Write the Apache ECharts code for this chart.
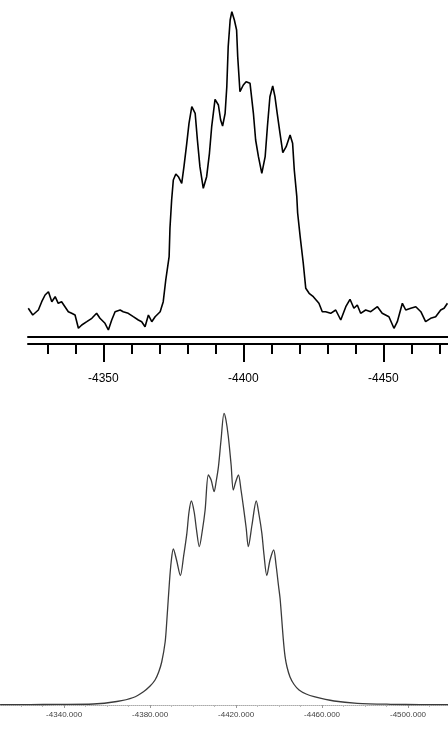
<!DOCTYPE html>
<html><head><meta charset="utf-8">
<script src="https://cdn.jsdelivr.net/npm/echarts@6/dist/echarts.min.js"></script>
<style>html,body{margin:0;padding:0;background:#fff}#c{width:448px;height:730px}</style>
</head><body><div id="c"></div>
<script>
// Top panel: experimental spectrum (field, intensity)
const topField = [-4323.2,-4324.8,-4326.8,-4328.0,-4329.2,-4330.4,-4331.6,-4332.8,-4333.9,-4335.1,-4336.3,-4337.5,-4338.7,-4339.9,-4341.1,-4342.3,-4344.1,-4345.9,-4347.6,-4348.8,-4350.6,-4351.8,-4353.0,-4354.2,-4356.0,-4357.1,-4358.9,-4360.7,-4362.5,-4363.7,-4364.9,-4366.1,-4367.3,-4368.5,-4370.3,-4371.4,-4372.3,-4373.5,-4373.8,-4374.4,-4375.0,-4375.9,-4376.8,-4378.0,-4378.8,-4379.8,-4380.6,-4381.6,-4382.8,-4383.6,-4384.5,-4385.7,-4386.9,-4387.9,-4388.7,-4389.9,-4391.1,-4391.9,-4392.6,-4393.5,-4394.1,-4394.6,-4395.3,-4395.9,-4396.8,-4397.6,-4398.0,-4398.8,-4400.0,-4401.0,-4402.4,-4403.6,-4404.4,-4405.4,-4406.6,-4407.8,-4408.6,-4409.5,-4410.5,-4411.3,-4412.1,-4413.1,-4414.1,-4415.3,-4416.7,-4417.6,-4418.2,-4419.1,-4419.4,-4420.3,-4421.4,-4422.3,-4423.5,-4425.0,-4427.0,-4428.2,-4429.4,-4431.2,-4433.0,-4434.8,-4436.6,-4438.1,-4439.5,-4440.7,-4441.9,-4443.7,-4445.5,-4447.9,-4449.6,-4452.0,-4453.8,-4455.0,-4456.8,-4458.0,-4459.8,-4461.6,-4463.4,-4465.1,-4466.9,-4468.7,-4470.5,-4471.7,-4472.9];
const topIntensity = [28.7,22,27,35.3,42,45.3,35.3,40.3,33.7,35.3,30.3,25.3,23.7,22,8.7,12,15.3,18.7,23.7,18.7,13.7,7,17,25.3,27,25.3,23.7,20.3,17,15.3,10.3,22,15.3,20.3,25.3,35.3,57,80.3,108.7,137,157,163,160.3,153.7,170.3,193.7,213.7,230.3,223.7,197,170.3,148.7,160.3,183.7,210.3,237.7,232,217,211,223.7,250.3,290.3,317,325.3,317,307,280.3,245.3,252,255.3,253.7,223.7,197,180.3,163.7,180.3,210.3,240.3,251,240.3,223.7,203.7,184.3,190.3,202,193.7,167,140.3,124,100.3,74,48.7,43.7,40.3,33.7,25.3,25.3,23.7,27,17,30.3,37.7,28.7,32,23.7,27,25.3,30.3,23.7,20.3,8.7,15.3,33.7,27,28.7,30.3,25.3,15.3,18.7,20.3,27,28.7,33.7];
const topLabelTicks = [-4350,-4400,-4450];
const topMinorTicks = [-4330,-4340,-4360,-4370,-4380,-4390,-4410,-4420,-4430,-4440,-4460,-4470];

// Bottom panel: simulated spectrum (field, intensity)
const botField = [-4310.2,-4324.2,-4336.6,-4353.6,-4364.5,-4372.2,-4376.9,-4380.0,-4382.3,-4384.0,-4385.4,-4387.0,-4387.8,-4389.0,-4389.8,-4390.8,-4392.3,-4394.1,-4395.6,-4397.1,-4398.1,-4399.2,-4400.5,-4401.6,-4402.9,-4404.2,-4405.6,-4407.1,-4408.4,-4409.8,-4410.7,-4411.8,-4413.0,-4414.4,-4415.3,-4416.4,-4417.7,-4418.7,-4419.8,-4421.1,-4422.3,-4423.4,-4424.7,-4425.7,-4427.4,-4429.4,-4430.7,-4432.0,-4433.0,-4434.3,-4435.8,-4437.5,-4438.6,-4439.7,-4440.5,-4442.0,-4442.8,-4443.7,-4445.1,-4447.0,-4449.3,-4452.6,-4456.3,-4465.6,-4476.4,-4492.0,-4505.6,-4518.6];
const botIntensity = [0.3,0.4,0.6,1,3.5,7.5,13.3,19,25,33,43,63,85,123,143,156,145,129.5,149,171.7,193,204,193,175,158.3,173,195,230,225,213.3,223,238.3,265,291.7,285,268.3,240,215,223,230,215,198.3,177,158.3,180,204,190,171.7,150,129.5,145,155,140,120,106,65,48.3,38,28,20.5,15,11,8.3,4,1.7,0.7,0.4,0.3];
const botLabelTicks = [-4300,-4340,-4380,-4420,-4460,-4500];
const botMinorTicks = [-4310,-4320,-4330,-4350,-4360,-4370,-4390,-4400,-4410,-4430,-4440,-4450,-4470,-4480,-4490,-4510];

const pairs = (xs, ys) => xs.map((x, i) => [x, ys[i]]);
const chart = echarts.init(document.getElementById('c'), null, {renderer: 'canvas'});
const TOPMIN = -4473.1, TOPMAX = -4323.1;
const BOTMIN = -4518.6, BOTMAX = -4286.9;
chart.setOption({
  animation: false,
  backgroundColor: '#fff',
  grid: [
    {left: 28, right: 0, top: 0, height: 337, outerBoundsMode: 'none', containLabel: false},
    {left: -50, right: 0, top: 380, height: 325, outerBoundsMode: 'none', containLabel: false}
  ],
  xAxis: [
    {gridIndex: 0, type: 'value', min: TOPMIN, max: TOPMAX, inverse: true, position: 'bottom',
     axisLine: {show: true, lineStyle: {color: '#000', width: 2}}, axisTick: {show: false},
     axisLabel: {show: false}, splitLine: {show: false}},
    {gridIndex: 0, type: 'value', min: TOPMIN, max: TOPMAX, inverse: true, position: 'bottom', offset: 7,
     axisLine: {show: true, lineStyle: {color: '#000', width: 2}},
     axisTick: {show: true, length: 10, customValues: topMinorTicks, lineStyle: {color: '#000', width: 2}},
     axisLabel: {show: false}, splitLine: {show: false}},
    {gridIndex: 0, type: 'value', min: TOPMIN, max: TOPMAX, inverse: true, position: 'bottom', offset: 7,
     axisLine: {show: false},
     axisTick: {show: true, length: 18, customValues: topLabelTicks, lineStyle: {color: '#000', width: 2}},
     axisLabel: {show: true, customValues: topLabelTicks, margin: 29, fontSize: 12,
       fontFamily: 'Liberation Sans, Arial, sans-serif', color: '#000', formatter: v => String(v)},
     splitLine: {show: false}},
    {gridIndex: 1, type: 'value', min: BOTMIN, max: BOTMAX, inverse: true, position: 'bottom',
     axisLine: {show: true, lineStyle: {color: '#aaa', width: 1, type: 'dotted'}},
     axisTick: {show: true, length: 3, customValues: botLabelTicks, lineStyle: {color: '#999', width: 1}},
     axisLabel: {show: true, customValues: botLabelTicks, margin: 6, fontSize: 8,
       fontFamily: 'Liberation Sans, Arial, sans-serif', color: '#444', formatter: v => v.toFixed(3)},
     splitLine: {show: false}},
    {gridIndex: 1, type: 'value', min: BOTMIN, max: BOTMAX, inverse: true, position: 'bottom',
     axisLine: {show: false},
     axisTick: {show: true, length: 2, customValues: botMinorTicks, lineStyle: {color: '#bbb', width: 1}},
     axisLabel: {show: false}, splitLine: {show: false}}
  ],
  yAxis: [
    {gridIndex: 0, type: 'value', min: 0, max: 337, show: false},
    {gridIndex: 1, type: 'value', min: 0, max: 325, show: false}
  ],
  series: [
    {type: 'line', xAxisIndex: 0, yAxisIndex: 0, data: pairs(topField, topIntensity),
     showSymbol: false, lineStyle: {color: '#000', width: 1.6}},
    {type: 'line', xAxisIndex: 3, yAxisIndex: 1, data: pairs(botField, botIntensity),
     showSymbol: false, smooth: 0.3, lineStyle: {color: '#3a3a3a', width: 1.3}}
  ]
});
</script></body></html>
